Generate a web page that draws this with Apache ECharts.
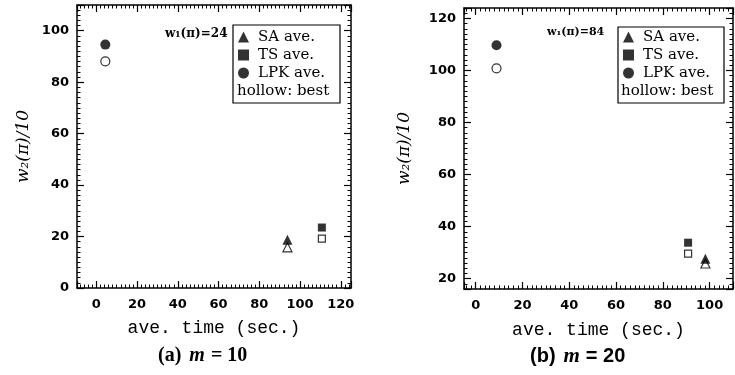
<!DOCTYPE html>
<html>
<head>
<meta charset="utf-8">
<script src="https://cdn.jsdelivr.net/npm/echarts@6/dist/echarts.min.js"></script>
<style>
  html, body { margin: 0; padding: 0; background: #fff; }
  #chart { width: 735px; height: 375px; }
</style>
</head>
<body>
<div id="chart"></div>
<script>
(function() {
  const chart = echarts.init(document.getElementById('chart'));

  // order in every array: SA, TS, LPK
  const names = ['SA ave.', 'TS ave.', 'LPK ave.'];
  const symbols = ['triangle', 'rect', 'circle'];

  // (a) m = 10
  const timeA = [93.8, 110.7, 4.4];
  const aveA = [18.8, 23.5, 94.6];
  const bestA = [15.8, 19.2, 88.1];

  // (b) m = 20
  const timeB = [98.2, 90.8, 8.9];
  const aveB = [27.6, 33.8, 109.7];
  const bestB = [25.8, 29.6, 100.8];

  const mono = 'Liberation Mono';
  const legendFont = 'DejaVu Serif';

  function axisPair(type, grid, min, max, labels, pos) {
    const base = {
      type: 'value',
      gridIndex: grid,
      min: min,
      max: max,
      splitNumber: 6,
      position: pos,
      axisLine: { show: true, onZero: false, lineStyle: { color: '#000', width: 1.5 } },
      axisTick: { show: true, inside: true, length: 7, lineStyle: { color: '#000', width: 1.2 } },
      minorTick: { show: true, splitNumber: 10, length: 3.5, lineStyle: { color: '#000', width: 1 } },
      splitLine: { show: false },
      axisLabel: { show: false }
    };
    if (labels) {
      base.axisLabel = {
        show: true,
        color: '#000',
        fontFamily: 'DejaVu Sans',
        fontWeight: 'bold',
        fontSize: 13,
        margin: type === 'x' ? 10 : 8,
        showMinLabel: min === 0,
        showMaxLabel: false
      };
      base.nameLocation = 'middle';
    }
    return base;
  }

  const xA = axisPair('x', 0, -9.5, 125, true, 'bottom');
  xA.name = 'ave. time (sec.)';
  xA.nameGap = 31;
  xA.nameTextStyle = { fontFamily: mono, fontSize: 18, color: '#000' };
  const xA2 = axisPair('x', 0, -9.5, 125, false, 'top');
  const yA = axisPair('y', 0, 0, 110, true, 'left');
  yA.name = 'w₂(π)/10';
  yA.nameGap = 45;
  yA.nameTextStyle = { fontFamily: 'DejaVu Serif', fontStyle: 'italic', fontSize: 17, color: '#000' };
  const yA2 = axisPair('y', 0, 0, 110, false, 'right');

  const xB = axisPair('x', 1, -5, 110, true, 'bottom');
  xB.name = 'ave. time (sec.)';
  xB.nameGap = 32;
  xB.nameTextStyle = { fontFamily: mono, fontSize: 18, color: '#000' };
  const xB2 = axisPair('x', 1, -5, 110, false, 'top');
  const yB = axisPair('y', 1, 16, 124, true, 'left');
  yB.name = 'w₂(π)/10';
  yB.nameGap = 51;
  yB.nameTextStyle = { fontFamily: 'DejaVu Serif', fontStyle: 'italic', fontSize: 17, color: '#000' };
  const yB2 = axisPair('y', 1, 16, 124, false, 'right');

  const series = [];
  function addSeries(times, ave, best, xi, yi) {
    names.forEach(function(name, i) {
      const size = symbols[i] === 'rect' ? 8 : 10;
      series.push({
        name: name,
        type: 'scatter',
        xAxisIndex: xi,
        yAxisIndex: yi,
        symbol: symbols[i],
        symbolSize: size,
        itemStyle: { color: '#000' },
        data: [[times[i], ave[i]]],
        z: 3
      });
      series.push({
        name: name.replace('ave.', 'best'),
        type: 'scatter',
        xAxisIndex: xi,
        yAxisIndex: yi,
        symbol: symbols[i],
        symbolSize: size - 1,
        itemStyle: { color: '#fff', borderColor: '#000', borderWidth: 1.2 },
        data: [[times[i], best[i]]],
        z: 2
      });
    });
  }
  addSeries(timeA, aveA, bestA, 0, 0);
  addSeries(timeB, aveB, bestB, 2, 2);

  function legendAt(left, top) {
    return {
      data: names,
      orient: 'vertical',
      left: left,
      top: top,
      itemWidth: 11,
      itemHeight: 11,
      itemGap: 2,
      padding: 0,
      selectedMode: false,
      textStyle: { fontFamily: legendFont, fontSize: 15, lineHeight: 16, color: '#000', padding: [0, 0, 0, 4] }
    };
  }

  const capRich = {
    b: { fontFamily: 'Liberation Serif', fontWeight: 'bold', fontSize: 20, fill: '#000' },
    i: { fontFamily: 'Liberation Serif', fontWeight: 'bold', fontStyle: 'italic', fontSize: 20, fill: '#000', padding: [0, 6, 0, 8] }
  };
  const capRichB = {
    b: { fontFamily: 'Liberation Sans', fontWeight: 'bold', fontSize: 20, fill: '#000' },
    i: { fontFamily: 'Liberation Serif', fontStyle: 'italic', fontWeight: 'bold', fontSize: 21, fill: '#000', padding: [0, 6, 0, 8] }
  };

  const option = {
    animation: false,
    backgroundColor: '#fff',
    grid: [
      { left: 77, top: 5, width: 274, height: 283 },
      { left: 464, top: 8, width: 269, height: 281 }
    ],
    xAxis: [xA, xA2, xB, xB2],
    yAxis: [yA, yA2, yB, yB2],
    legend: [legendAt(238, 29), legendAt(623, 29)],
    graphic: [
      { type: 'rect', shape: { x: 233, y: 25, width: 107, height: 78 },
        style: { fill: 'none', stroke: '#000', lineWidth: 1.2 }, z: 10 },
      { type: 'text', left: 237, top: 84, z: 11,
        style: { text: 'hollow: best', font: '15px "DejaVu Serif"', fill: '#000' } },
      { type: 'text', left: 165, top: 28, z: 11,
        style: { text: 'w₁(π)=24', font: 'bold 12px "DejaVu Serif"', fill: '#000' } },
      { type: 'rect', shape: { x: 618, y: 27, width: 106, height: 76 },
        style: { fill: 'none', stroke: '#000', lineWidth: 1.2 }, z: 10 },
      { type: 'text', left: 621, top: 84, z: 11,
        style: { text: 'hollow: best', font: '15px "DejaVu Serif"', fill: '#000' } },
      { type: 'text', left: 547, top: 27, z: 11,
        style: { text: 'w₁(π)=84', font: 'bold 11px "DejaVu Serif"', fill: '#000' } },
      { type: 'text', left: 158, top: 346,
        style: { text: '{b|(a)}{i|m}{b|= 10}', rich: capRich } },
      { type: 'text', left: 530, top: 346,
        style: { text: '{b|(b)}{i|m}{b|= 20}', rich: capRichB } }
    ],
    series: series
  };

  chart.setOption(option);
}());
</script>
</body>
</html>
